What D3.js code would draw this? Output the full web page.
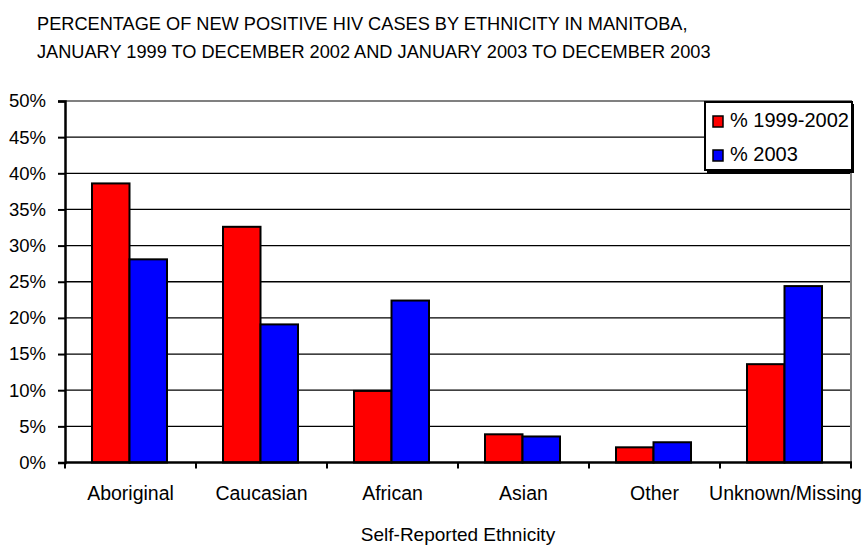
<!DOCTYPE html>
<html>
<head>
  <meta charset="utf-8">
  <title>HIV cases by ethnicity</title>
  <script src="https://cdn.jsdelivr.net/npm/d3@7"></script>
  <style>
    body { margin: 0; background: #fff; }
    text { font-family: Arial, "Liberation Sans", sans-serif; fill: #000; }
  </style>
</head>
<body>
  <svg width="866" height="546"></svg>

  <script>
  var categories = ["Aboriginal", "Caucasian", "African", "Asian", "Other", "Unknown/Missing"];
  var series = ["% 1999-2002", "% 2003"];
  var values1999 = [38.6, 32.6, 9.9, 3.9, 2.1, 13.6];
  var values2003 = [28.1, 19.1, 22.4, 3.6, 2.8, 24.4];
  var yTicks = [0, 5, 10, 15, 20, 25, 30, 35, 40, 45, 50];
  var colors = ["#ff0000", "#0000ff"];

  var svg = d3.select("svg");
  var mLeft = 65, mRight = 851, mTop = 101, mBottom = 462.5;

  var x0 = d3.scaleBand().domain(categories).range([mLeft, mRight]);
  var x1 = d3.scaleBand().domain(series).range([27, 102]);
  var y = d3.scaleLinear().domain([0, 50]).range([mBottom, mTop]);

  // title
  svg.append("text").attr("x", 37).attr("y", 30).attr("font-size", 18.2)
    .text("PERCENTAGE OF NEW POSITIVE HIV CASES BY ETHNICITY IN MANITOBA,");
  svg.append("text").attr("x", 37).attr("y", 58).attr("font-size", 18.2)
    .text("JANUARY 1999 TO DECEMBER 2002 AND JANUARY 2003 TO DECEMBER 2003");

  // grid lines
  svg.append("g").selectAll("line")
    .data(yTicks.filter(function(d) { return d > 0 && d < 50; }))
    .enter().append("line")
      .attr("x1", mLeft).attr("x2", mRight)
      .attr("y1", function(d) { return y(d); })
      .attr("y2", function(d) { return y(d); })
      .attr("stroke", "#000").attr("stroke-width", 1.3);

  // plot frame top / right (grey)
  svg.append("path")
    .attr("d", "M" + mLeft + "," + y(50) + "H" + mRight + "V" + mBottom)
    .attr("fill", "none").attr("stroke", "#808080").attr("stroke-width", 2);

  // bars
  var data = categories.map(function(c, i) {
    return { cat: c, vals: [values1999[i], values2003[i]] };
  });
  var groups = svg.append("g").selectAll("g")
    .data(data).enter().append("g")
      .attr("transform", function(d) { return "translate(" + x0(d.cat) + ",0)"; });
  groups.selectAll("rect")
    .data(function(d) { return d.vals.map(function(v, j) { return { s: series[j], v: v, j: j }; }); })
    .enter().append("rect")
      .attr("x", function(d) { return x1(d.s); })
      .attr("width", x1.bandwidth())
      .attr("y", function(d) { return y(d.v); })
      .attr("height", function(d) { return y(0) - y(d.v); })
      .attr("fill", function(d) { return colors[d.j]; })
      .attr("stroke", "#000").attr("stroke-width", 2);

  // y axis
  var yAxis = svg.append("g")
    .attr("transform", "translate(" + mLeft + ",0)")
    .call(d3.axisLeft(y).tickValues(yTicks).tickSize(7).tickPadding(12)
      .tickFormat(function(d) { return d + "%"; }));
  yAxis.select(".domain").attr("stroke-width", 2.5);
  yAxis.selectAll(".tick line").attr("stroke-width", 2);
  yAxis.selectAll(".tick text").attr("font-size", 18.5).attr("font-family", "Arial, 'Liberation Sans', sans-serif");

  // x axis: ticks at category boundaries
  var xAxis = svg.append("g").attr("transform", "translate(0," + mBottom + ")");
  xAxis.append("line").attr("x1", mLeft).attr("x2", mRight + 1)
    .attr("stroke", "#000").attr("stroke-width", 2.5);
  xAxis.selectAll(".bt")
    .data(categories.concat(["end"]))
    .enter().append("line")
      .attr("x1", function(d, i) { return i < categories.length ? x0(d) : mRight; })
      .attr("x2", function(d, i) { return i < categories.length ? x0(d) : mRight; })
      .attr("y1", 0).attr("y2", 6)
      .attr("stroke", "#000").attr("stroke-width", 2);
  xAxis.selectAll(".lbl")
    .data(categories).enter().append("text")
      .attr("x", function(d) { return x0(d) + x0.bandwidth() / 2; })
      .attr("y", 37)
      .attr("text-anchor", "middle")
      .attr("font-size", 19.5)
      .text(function(d) { return d; });

  svg.append("text")
    .attr("x", (mLeft + mRight) / 2).attr("y", 541)
    .attr("text-anchor", "middle").attr("font-size", 19)
    .text("Self-Reported Ethnicity");

  // legend
  var lg = svg.append("g").attr("transform", "translate(705,102)");
  lg.append("rect").attr("x", 2).attr("y", 2).attr("width", 147).attr("height", 69).attr("fill", "#000");
  lg.append("rect").attr("width", 147).attr("height", 68)
    .attr("fill", "#fff").attr("stroke", "#000").attr("stroke-width", 2);
  var items = lg.selectAll(".item").data(series).enter().append("g")
    .attr("transform", function(d, i) { return "translate(0," + (i * 34) + ")"; });
  items.append("rect").attr("x", 8).attr("y", 14).attr("width", 10).attr("height", 11)
    .attr("fill", function(d, i) { return colors[i]; })
    .attr("stroke", "#000").attr("stroke-width", 1.5);
  items.append("text").attr("x", 25).attr("y", 25).attr("font-size", 20)
    .text(function(d) { return d; });
  </script>
</body>
</html>
